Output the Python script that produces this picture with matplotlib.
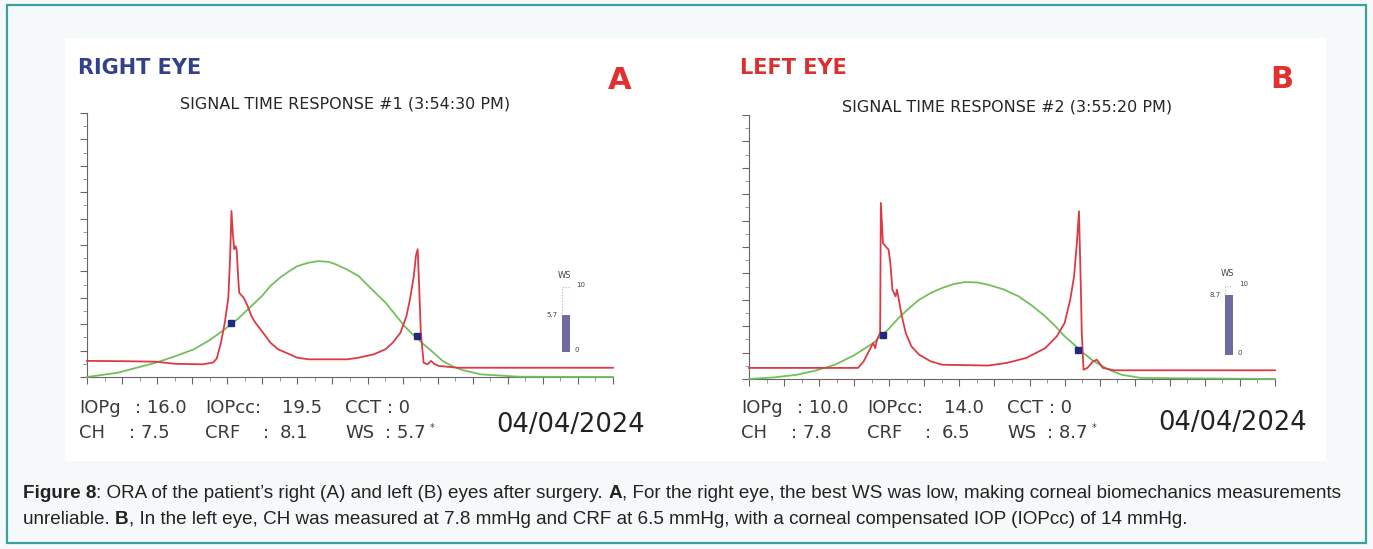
import matplotlib.pyplot as plt
from matplotlib.patches import Rectangle
from matplotlib.ticker import MultipleLocator

# ---- data (x in major ticks, y in major ticks)
right_red_x = [0, 1.0, 1.96, 2.51, 3.3, 3.60, 3.70, 3.82, 3.93, 4.03, 4.08, 4.12, 4.16, 4.20,
               4.24, 4.27, 4.31, 4.34, 4.40, 4.47, 4.58, 4.69, 4.80, 5.02, 5.23, 5.45, 5.78,
               6.0, 6.32, 7.42, 7.74, 8.18, 8.51, 8.72, 8.94, 9.11, 9.21, 9.32, 9.38, 9.43,
               9.47, 9.52, 9.60, 9.71, 9.81, 9.90, 10.03, 10.58, 15.0]
right_red_y = [0.61, 0.60, 0.58, 0.50, 0.48, 0.55, 0.70, 1.30, 2.06, 3.0, 4.5, 6.29, 5.4, 4.84,
               4.95, 4.8, 3.8, 3.19, 3.1, 3.0, 2.69, 2.31, 2.06, 1.68, 1.30, 1.05, 0.86,
               0.73, 0.67, 0.67, 0.73, 0.86, 1.05, 1.30, 1.68, 2.31, 2.94, 3.83, 4.6, 4.84,
               3.5, 1.68, 0.54, 0.48, 0.61, 0.50, 0.42, 0.35, 0.35]
right_green_x = [0, 0.87, 1.96, 2.5, 3.05, 3.5, 3.93, 4.3, 4.69, 5.0, 5.23, 5.5, 5.78, 6.0,
                 6.32, 6.60, 6.9, 7.09, 7.4, 7.74, 8.1, 8.51, 8.8, 9.05, 9.3, 9.60, 9.9,
                 10.14, 10.4, 10.69, 11.23, 12.32, 15.0]
right_green_y = [0, 0.16, 0.54, 0.78, 1.05, 1.4, 1.81, 2.2, 2.69, 3.08, 3.45, 3.76, 4.02, 4.2,
                 4.33, 4.39, 4.36, 4.27, 4.08, 3.83, 3.35, 2.82, 2.35, 1.93, 1.6, 1.24, 0.9,
                 0.61, 0.42, 0.27, 0.10, 0.01, 0]
right_marks_x = [4.12, 9.41]
right_marks_y = [2.06, 1.55]

left_red_x = [0, 3.11, 3.27, 3.44, 3.54, 3.60, 3.65, 3.74, 3.76, 3.82, 3.89, 3.98, 4.03, 4.09,
              4.18, 4.22, 4.29, 4.36, 4.47, 4.63, 4.85, 5.18, 5.51, 6.82, 7.36, 7.91, 8.45,
              8.78, 9.0, 9.16, 9.27, 9.35, 9.41, 9.46, 9.49, 9.54, 9.65, 9.81, 9.92, 10.09,
              10.41, 15.0]
left_red_y = [0.42, 0.42, 0.67, 1.11, 1.36, 1.17, 1.49, 1.74, 6.67, 5.15, 5.03, 4.90, 4.39, 3.38,
              3.13, 3.38, 2.88, 2.37, 1.74, 1.24, 0.92, 0.67, 0.54, 0.51, 0.61, 0.80, 1.17,
              1.62, 2.12, 3.0, 3.89, 5.15, 6.35, 3.64, 1.74, 0.35, 0.42, 0.67, 0.73, 0.42,
              0.33, 0.33]
left_green_x = [0, 0.7, 1.36, 1.9, 2.45, 3.0, 3.54, 3.95, 4.31, 4.6, 4.85, 5.2, 5.51, 5.85,
                6.16, 6.5, 6.82, 7.25, 7.69, 8.05, 8.45, 8.75, 9.0, 9.3, 9.54, 9.8, 10.09,
                10.35, 10.63, 11.18, 15.0]
left_green_y = [0, 0.06, 0.16, 0.32, 0.54, 0.9, 1.36, 1.85, 2.37, 2.72, 3.0, 3.27, 3.45, 3.6,
                3.67, 3.66, 3.57, 3.4, 3.13, 2.8, 2.37, 1.98, 1.62, 1.27, 0.98, 0.7, 0.48,
                0.3, 0.16, 0.04, 0]
left_marks_x = [3.82, 9.38]
left_marks_y = [1.68, 1.11]

ws_values = [5.7, 8.7]
ws_max = 10
eye_names = ["RIGHT EYE", "LEFT EYE"]
panel_letters = ["A", "B"]
titles = ["SIGNAL TIME RESPONSE #1 (3:54:30 PM)", "SIGNAL TIME RESPONSE #2 (3:55:20 PM)"]
iopg = ["16.0", "10.0"]
iopcc = ["19.5", "14.0"]
ch = ["7.5", "7.8"]
crf = ["8.1", "6.5"]
cct = ["0", "0"]
date = "04/04/2024"

W, H = 1373, 549
RED = "#dc3b45"
GREEN = "#72c05c"
DARK = "#3a3a3a"


def fx(x):
    return x / W


def fy(y):
    return 1 - y / H


fig = plt.figure(figsize=(W / 100, H / 100), dpi=100)
fig.patch.set_facecolor("#f6f9f9")
fig.patches.append(Rectangle((fx(65), fy(461)), fx(1326) - fx(65), fy(38) - fy(461),
                             transform=fig.transFigure, fc="white", ec="none", zorder=-2))
fig.patches.append(Rectangle((fx(7), fy(543)), fx(1366) - fx(7), fy(5) - fy(543),
                             transform=fig.transFigure, fc="none", ec="#3f9e9e", lw=1.6,
                             zorder=5))

panels = [
    dict(x0=87, red=(right_red_x, right_red_y), green=(right_green_x, right_green_y),
         marks=(right_marks_x, right_marks_y), name_color="#33408a"),
    dict(x0=749, red=(left_red_x, left_red_y), green=(left_green_x, left_green_y),
         marks=(left_marks_x, left_marks_y), name_color="#d8312f"),
]
ws_boxes = [(562, 352, 65), (1225, 355, 69)]

for i, p in enumerate(panels):
    x0 = p["x0"]
    top, bottom = 113 + 2 * i, 377 + 2 * i
    ax = fig.add_axes([fx(x0), fy(bottom), fx(526), (bottom - top) / H])
    ax.set_facecolor("none")
    ax.plot(*p["green"], color=GREEN, lw=1.3, clip_on=False, zorder=3)
    ax.plot(*p["red"], color=RED, lw=1.3, clip_on=False, zorder=4)
    ax.plot(*p["marks"], "s", color="#1f2a80", ms=4, zorder=5)
    ax.set_xlim(0, 15)
    ax.set_ylim(0, 10)
    for s in ["top", "right"]:
        ax.spines[s].set_visible(False)
    for s in ["left", "bottom"]:
        ax.spines[s].set_color("#666666")
        ax.spines[s].set_linewidth(0.8)
    ax.xaxis.set_major_locator(MultipleLocator(1))
    ax.xaxis.set_minor_locator(MultipleLocator(0.5))
    ax.yaxis.set_major_locator(MultipleLocator(1))
    ax.yaxis.set_minor_locator(MultipleLocator(0.5))
    ax.tick_params(which="major", length=5, width=0.8, color="#666666",
                   labelbottom=False, labelleft=False)
    ax.tick_params(which="minor", length=3, width=0.6, color="#888888")

    # header texts
    fig.text(fx(x0 - 9), fy(68), eye_names[i], color=p["name_color"], fontsize=15,
             fontweight="bold", va="center", ha="left")
    fig.text(fx(x0 + 533), fy(81 - i * 2), panel_letters[i], color="#e0302f", fontsize=22,
             fontweight="bold", va="center", ha="center")
    fig.text(fx(x0 + 258), fy(104 + i * 3), titles[i], color="#262626", fontsize=11.5,
             va="center", ha="center")

    # readings under the plot
    r1, r2 = fy(408), fy(433)
    fs = 13
    fig.text(fx(x0 - 8), r1, "IOPg", fontsize=fs, color=DARK, va="center")
    fig.text(fx(x0 + 48), r1, ": " + iopg[i], fontsize=fs, color=DARK, va="center")
    fig.text(fx(x0 + 118), r1, "IOPcc:", fontsize=fs, color=DARK, va="center")
    fig.text(fx(x0 + 195), r1, iopcc[i], fontsize=fs, color=DARK, va="center")
    fig.text(fx(x0 + 258), r1, "CCT : " + cct[i], fontsize=fs, color=DARK, va="center")
    fig.text(fx(x0 - 8), r2, "CH", fontsize=fs, color=DARK, va="center")
    fig.text(fx(x0 + 42), r2, ": " + ch[i], fontsize=fs, color=DARK, va="center")
    fig.text(fx(x0 + 118), r2, "CRF", fontsize=fs, color=DARK, va="center")
    fig.text(fx(x0 + 176), r2, ":", fontsize=fs, color=DARK, va="center")
    fig.text(fx(x0 + 193), r2, crf[i], fontsize=fs, color=DARK, va="center")
    fig.text(fx(x0 + 258), r2, "WS", fontsize=fs, color=DARK, va="center")
    fig.text(fx(x0 + 298), r2, ": %.1f" % ws_values[i], fontsize=fs, color=DARK, va="center")
    fig.text(fx(x0 + 343), fy(428), "*", fontsize=7, color=DARK, va="center")
    fig.text(fx(x0 + 558), fy(425 - i * 2), date, fontsize=18.5, color="#222222",
             va="center", ha="right")

    # WS quality bar
    bx, bb, bh = ws_boxes[i]
    wax = fig.add_axes([fx(bx), fy(bb), fx(8), bh / H])
    wax.bar(0, ws_max, width=1, fill=False, ec="#b0b0b0", ls=":", lw=0.8)
    wax.bar(0, ws_values[i], width=1, color="#6e6ba3", ec="none")
    wax.set_xlim(-0.5, 0.5)
    wax.set_ylim(0, ws_max)
    wax.axis("off")
    fig.text(fx(bx + 2), fy(bb - bh - 12), "WS", fontsize=6, color="#444444",
             ha="center", va="center")
    fig.text(fx(bx + 19), fy(bb - bh - 2), str(ws_max), fontsize=5, color="#444444",
             ha="center", va="center")
    fig.text(fx(bx - 4), fy(bb - bh * ws_values[i] / ws_max), "%.1f" % ws_values[i],
             fontsize=5, color="#444444", ha="right", va="center")
    fig.text(fx(bx + 15), fy(bb - 2), "0", fontsize=5, color="#444444",
             ha="center", va="center")

# ---- caption
cap_fs = 13.6
cap_font = "Liberation Sans"
line1 = [("Figure 8", "bold"),
         (": ORA of the patient\u2019s right (A) and left (B) eyes after surgery. ", "normal"),
         ("A", "bold"),
         (", For the right eye, the best WS was low, making corneal biomechanics measurements",
          "normal")]
line2 = [("unreliable. ", "normal"), ("B", "bold"),
         (", In the left eye, CH was measured at 7.8 mmHg and CRF at 6.5 mmHg, with a corneal "
          "compensated IOP (IOPcc) of 14 mmHg.", "normal")]

fig.canvas.draw()
renderer = fig.canvas.get_renderer()
for line, ypix in [(line1, 493), (line2, 520)]:
    xpix = 23
    for txt, wt in line:
        t = fig.text(fx(xpix), fy(ypix), txt, fontsize=cap_fs, fontweight=wt,
                     family=cap_font, color="#222222", va="center", ha="left")
        xpix += t.get_window_extent(renderer).width

fig.savefig("out.png", dpi=100, facecolor=fig.get_facecolor())
